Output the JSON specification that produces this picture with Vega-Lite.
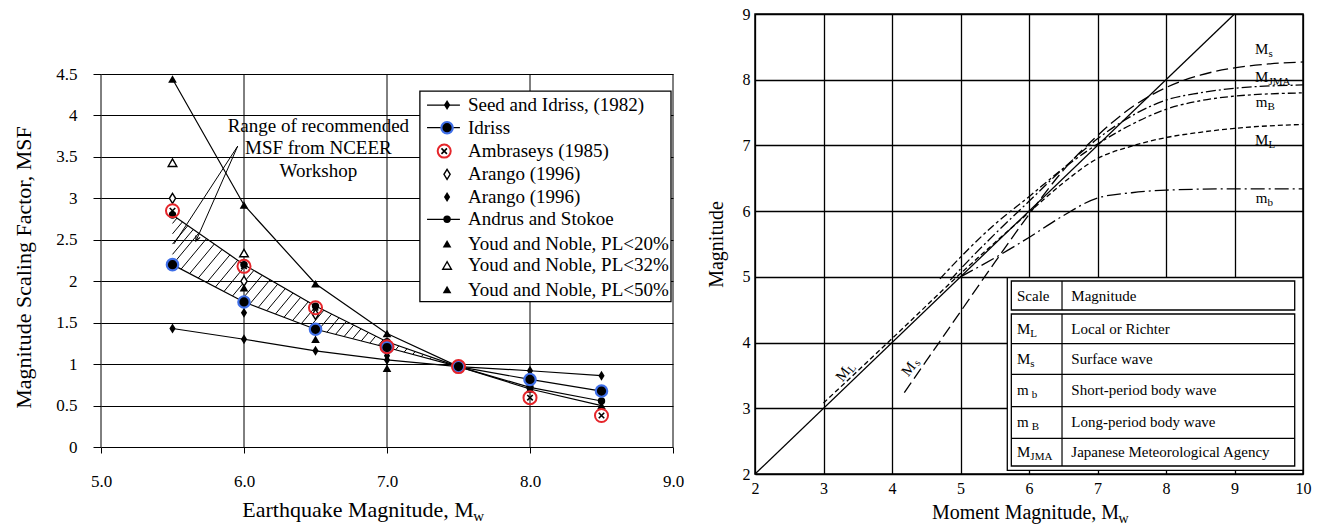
{
  "$schema": "https://vega.github.io/schema/vega-lite/v6.json",
  "background": "white",
  "padding": {"left": 12, "top": 5, "right": 5, "bottom": 2},
  "spacing": 21,
  "config": {
    "font": "Liberation Serif",
    "axis": {"labelFont": "Liberation Serif", "titleFont": "Liberation Serif", "labelColor": "#000", "titleColor": "#000", "titleFontWeight": "normal", "tickColor": "#000", "gridColor": "#000", "gridOpacity": 1, "domainColor": "#000", "labelFlush": false, "labelOverlap": false},
    "text": {"font": "Liberation Serif", "color": "#000"}
  },
  "datasets": {
    "msf": [
      {"x": 5.5, "y": 1.43, "s": "Seed"}, {"x": 6, "y": 1.3, "s": "Seed"}, {"x": 6.5, "y": 1.16, "s": "Seed"}, {"x": 7, "y": 1.05, "s": "Seed"}, {"x": 7.5, "y": 0.97, "s": "Seed"}, {"x": 8, "y": 0.92, "s": "Seed"}, {"x": 8.5, "y": 0.86, "s": "Seed"},
      {"x": 5.5, "y": 2.2, "s": "Idriss"}, {"x": 6, "y": 1.75, "s": "Idriss"}, {"x": 6.5, "y": 1.42, "s": "Idriss"}, {"x": 7, "y": 1.2, "s": "Idriss"}, {"x": 7.5, "y": 0.97, "s": "Idriss"}, {"x": 8, "y": 0.815, "s": "Idriss"}, {"x": 8.5, "y": 0.675, "s": "Idriss"},
      {"x": 5.5, "y": 2.85, "s": "Amb"}, {"x": 6, "y": 2.18, "s": "Amb"}, {"x": 6.5, "y": 1.68, "s": "Amb"}, {"x": 7, "y": 1.21, "s": "Amb"}, {"x": 7.5, "y": 0.97, "s": "Amb"}, {"x": 8, "y": 0.595, "s": "Amb"}, {"x": 8.5, "y": 0.38, "s": "Amb"},
      {"x": 5.5, "y": 3.0, "s": "Ar1"}, {"x": 6, "y": 2.0, "s": "Ar1"}, {"x": 6.5, "y": 1.6, "s": "Ar1"},
      {"x": 5.5, "y": 2.2, "s": "Ar2"}, {"x": 6, "y": 1.62, "s": "Ar2"}, {"x": 6.5, "y": 1.4, "s": "Ar2"}, {"x": 7, "y": 1.1, "s": "Ar2"},
      {"x": 5.5, "y": 2.8, "s": "And"}, {"x": 6, "y": 2.2, "s": "And"}, {"x": 6.5, "y": 1.7, "s": "And"}, {"x": 7, "y": 1.27, "s": "And"}, {"x": 7.5, "y": 0.97, "s": "And"}, {"x": 8, "y": 0.72, "s": "And"}, {"x": 8.5, "y": 0.555, "s": "And"},
      {"x": 6, "y": 1.92, "s": "Y20"}, {"x": 6.5, "y": 1.3, "s": "Y20"}, {"x": 7, "y": 0.95, "s": "Y20"},
      {"x": 5.5, "y": 3.43, "s": "Y32"}, {"x": 6, "y": 2.34, "s": "Y32"},
      {"x": 5.5, "y": 4.44, "s": "Y50"}, {"x": 6, "y": 2.92, "s": "Y50"}, {"x": 6.5, "y": 1.97, "s": "Y50"}, {"x": 7, "y": 1.37, "s": "Y50"}, {"x": 7.5, "y": 0.97, "s": "Y50"}, {"x": 8, "y": 0.7, "s": "Y50"}, {"x": 8.5, "y": 0.5, "s": "Y50"},
      {"x": 7.42, "y": 4.125, "s": "Seed", "g": 1}, {"x": 7.42, "y": 3.852, "s": "Idriss", "g": 1}, {"x": 7.40, "y": 3.57, "s": "Amb", "g": 1},
      {"x": 7.42, "y": 3.29, "s": "Ar1", "g": 1}, {"x": 7.42, "y": 3.016, "s": "Ar2", "g": 1}, {"x": 7.42, "y": 2.747, "s": "And", "g": 1},
      {"x": 7.42, "y": 2.452, "s": "Y20", "g": 1}, {"x": 7.42, "y": 2.19, "s": "Y32", "g": 1}, {"x": 7.42, "y": 1.9, "s": "Y50", "g": 1}
    ],
    "vgrid": [
      {"x": 5, "y": 0, "y2": 4.5}, {"x": 6, "y": 0, "y2": 4.5}, {"x": 7, "y": 0, "y2": 4.5}, {"x": 8, "y": 0, "y2": 4.5}, {"x": 9, "y": 0, "y2": 4.5}
    ],
    "hatch": [
      {"x": 5.5, "y": 2.324, "x2": 5.6456, "y2": 2.6253}, {"x": 5.5, "y": 2.448, "x2": 5.6076, "y2": 2.671}, {"x": 5.5, "y": 2.572, "x2": 5.5697, "y2": 2.7164}, {"x": 5.5, "y": 2.697, "x2": 5.5315, "y2": 2.7622},
      {"x": 5.5, "y": 2.2, "x2": 5.6835, "y2": 2.58}, {"x": 5.56, "y": 2.146, "x2": 5.738, "y2": 2.514}, {"x": 5.62, "y": 2.092, "x2": 5.7925, "y2": 2.449}, {"x": 5.68, "y": 2.038, "x2": 5.847, "y2": 2.384},
      {"x": 5.74, "y": 1.984, "x2": 5.9015, "y2": 2.318}, {"x": 5.8, "y": 1.93, "x2": 5.956, "y2": 2.253}, {"x": 5.86, "y": 1.876, "x2": 6.0105, "y2": 2.1895}, {"x": 5.92, "y": 1.822, "x2": 6.0692, "y2": 2.1308},
      {"x": 5.98, "y": 1.768, "x2": 6.1272, "y2": 2.0728}, {"x": 6.04, "y": 1.7236, "x2": 6.1822, "y2": 2.0178}, {"x": 6.1, "y": 1.684, "x2": 6.2355, "y2": 1.9645}, {"x": 6.16, "y": 1.6444, "x2": 6.2889, "y2": 1.9111},
      {"x": 6.22, "y": 1.6048, "x2": 6.3422, "y2": 1.8578}, {"x": 6.28, "y": 1.5652, "x2": 6.3956, "y2": 1.8044}, {"x": 6.34, "y": 1.5256, "x2": 6.4489, "y2": 1.7511}, {"x": 6.4, "y": 1.486, "x2": 6.5024, "y2": 1.698},
      {"x": 6.46, "y": 1.4464, "x2": 6.5583, "y2": 1.6499}, {"x": 6.52, "y": 1.4112, "x2": 6.6127, "y2": 1.6031}, {"x": 6.58, "y": 1.3848, "x2": 6.6641, "y2": 1.5589}, {"x": 6.64, "y": 1.3584, "x2": 6.7155, "y2": 1.5147},
      {"x": 6.7, "y": 1.332, "x2": 6.7669, "y2": 1.4705}, {"x": 6.76, "y": 1.3056, "x2": 6.8183, "y2": 1.4263}, {"x": 6.82, "y": 1.2792, "x2": 6.8697, "y2": 1.3821}, {"x": 6.88, "y": 1.2528, "x2": 6.9211, "y2": 1.3379},
      {"x": 6.94, "y": 1.2264, "x2": 6.9725, "y2": 1.2937}, {"x": 7.0, "y": 1.2, "x2": 7.0262, "y2": 1.2542}, {"x": 7.06, "y": 1.1724, "x2": 7.0831, "y2": 1.2201}, {"x": 7.12, "y": 1.1448, "x2": 7.1399, "y2": 1.1861},
      {"x": 7.18, "y": 1.1172, "x2": 7.1968, "y2": 1.1519}, {"x": 7.24, "y": 1.0896, "x2": 7.2536, "y2": 1.1178}, {"x": 7.3, "y": 1.062, "x2": 7.3105, "y2": 1.0837}
    ],
    "arrow": [
      {"x": 5.956, "y": 3.63, "x2": 5.664, "y2": 2.485},
      {"x": 5.956, "y": 3.63, "x2": 5.51, "y2": 2.45}
    ],
    "arrowhead": [{"x": 5.664, "y": 2.485}],
    "note": [
      {"x": 6.52, "y": 3.87, "t": "Range of recommended"},
      {"x": 6.52, "y": 3.61, "t": "MSF from NCEER"},
      {"x": 6.52, "y": 3.33, "t": "Workshop"}
    ],
    "lsub": [{"x": 7.604, "y": -0.83, "t": "w"}],
    "legbox": [{"x": 7.23, "x2": 8.986, "y": 1.753, "y2": 4.294}],
    "leglines": [
      {"x": 7.28, "x2": 7.51, "y": 4.125}, {"x": 7.28, "x2": 7.51, "y": 3.852}, {"x": 7.28, "x2": 7.51, "y": 2.747}
    ],
    "legtext": [
      {"x": 7.566, "y": 4.125, "t": "Seed and Idriss, (1982)"},
      {"x": 7.566, "y": 3.852, "t": "Idriss"},
      {"x": 7.566, "y": 3.57, "t": "Ambraseys (1985)"},
      {"x": 7.566, "y": 3.29, "t": "Arango (1996)"},
      {"x": 7.566, "y": 3.016, "t": "Arango (1996)"},
      {"x": 7.566, "y": 2.747, "t": "Andrus and Stokoe"},
      {"x": 7.566, "y": 2.452, "t": "Youd and Noble, PL<20%"},
      {"x": 7.566, "y": 2.19, "t": "Youd and Noble, PL<32%"},
      {"x": 7.566, "y": 1.9, "t": "Youd and Noble, PL<50%"}
    ],
    "curves": [
      {"x": 4.18, "y": 3.24, "s": "Ms"}, {"x": 4.5, "y": 3.72, "s": "Ms"}, {"x": 5, "y": 4.47, "s": "Ms"}, {"x": 5.5, "y": 5.22, "s": "Ms"}, {"x": 6, "y": 5.95, "s": "Ms"}, {"x": 6.5, "y": 6.62, "s": "Ms"}, {"x": 7, "y": 7.15, "s": "Ms"}, {"x": 7.5, "y": 7.58, "s": "Ms"}, {"x": 8, "y": 7.88, "s": "Ms"}, {"x": 8.5, "y": 8.07, "s": "Ms"}, {"x": 9, "y": 8.18, "s": "Ms"}, {"x": 9.5, "y": 8.24, "s": "Ms"}, {"x": 10, "y": 8.27, "s": "Ms"},
      {"x": 4.85, "y": 4.95, "s": "MJMA"}, {"x": 5, "y": 5.12, "s": "MJMA"}, {"x": 5.5, "y": 5.65, "s": "MJMA"}, {"x": 6, "y": 6.15, "s": "MJMA"}, {"x": 6.5, "y": 6.65, "s": "MJMA"}, {"x": 7, "y": 7.1, "s": "MJMA"}, {"x": 7.5, "y": 7.45, "s": "MJMA"}, {"x": 8, "y": 7.69, "s": "MJMA"}, {"x": 8.5, "y": 7.8, "s": "MJMA"}, {"x": 9, "y": 7.87, "s": "MJMA"}, {"x": 10, "y": 7.92, "s": "MJMA"},
      {"x": 4.7, "y": 4.97, "s": "mB"}, {"x": 5, "y": 5.3, "s": "mB"}, {"x": 5.5, "y": 5.8, "s": "mB"}, {"x": 6, "y": 6.22, "s": "mB"}, {"x": 6.5, "y": 6.65, "s": "mB"}, {"x": 7, "y": 7.02, "s": "mB"}, {"x": 7.5, "y": 7.32, "s": "mB"}, {"x": 8, "y": 7.55, "s": "mB"}, {"x": 8.5, "y": 7.68, "s": "mB"}, {"x": 9, "y": 7.75, "s": "mB"}, {"x": 10, "y": 7.8, "s": "mB"},
      {"x": 3, "y": 3.08, "s": "ML"}, {"x": 4, "y": 4.06, "s": "ML"}, {"x": 5, "y": 5.05, "s": "ML"}, {"x": 5.5, "y": 5.52, "s": "ML"}, {"x": 6, "y": 5.98, "s": "ML"}, {"x": 6.5, "y": 6.43, "s": "ML"}, {"x": 7, "y": 6.8, "s": "ML"}, {"x": 7.5, "y": 6.99, "s": "ML"}, {"x": 8, "y": 7.12, "s": "ML"}, {"x": 8.5, "y": 7.2, "s": "ML"}, {"x": 9, "y": 7.26, "s": "ML"}, {"x": 10, "y": 7.32, "s": "ML"},
      {"x": 5, "y": 5.0, "s": "mb"}, {"x": 5.7, "y": 5.41, "s": "mb"}, {"x": 6, "y": 5.6, "s": "mb"}, {"x": 6.5, "y": 5.93, "s": "mb"}, {"x": 7, "y": 6.2, "s": "mb"}, {"x": 7.5, "y": 6.28, "s": "mb"}, {"x": 8, "y": 6.32, "s": "mb"}, {"x": 9, "y": 6.34, "s": "mb"}, {"x": 10, "y": 6.34, "s": "mb"}
    ],
    "diag": [{"x": 2, "y": 2}, {"x": 9, "y": 9}],
    "tbox": [
      {"x": 5.683, "x2": 10, "y": 2.056, "y2": 4.987},
      {"x": 5.742, "x2": 9.879, "y": 4.496, "y2": 4.937},
      {"x": 5.742, "x2": 9.879, "y": 2.122, "y2": 4.435}
    ],
    "tlines": [
      {"x": 6.482, "x2": 6.482, "y": 4.496, "y2": 4.937},
      {"x": 6.482, "x2": 6.482, "y": 2.122, "y2": 4.435},
      {"x": 5.742, "x2": 9.879, "y": 3.983, "y2": 3.983},
      {"x": 5.742, "x2": 9.879, "y": 3.517, "y2": 3.517},
      {"x": 5.742, "x2": 9.879, "y": 3.024, "y2": 3.024},
      {"x": 5.742, "x2": 9.879, "y": 2.543, "y2": 2.543}
    ],
    "ttext": [
      {"x": 5.825, "y": 4.716, "t": "Scale"}, {"x": 6.618, "y": 4.716, "t": "Magnitude"},
      {"x": 5.825, "y": 4.208, "t": "M"}, {"x": 6.618, "y": 4.208, "t": "Local or Richter"},
      {"x": 5.825, "y": 3.75, "t": "M"}, {"x": 6.618, "y": 3.75, "t": "Surface wave"},
      {"x": 5.825, "y": 3.271, "t": "m"}, {"x": 6.618, "y": 3.271, "t": "Short-period body wave"},
      {"x": 5.825, "y": 2.784, "t": "m"}, {"x": 6.618, "y": 2.784, "t": "Long-period body wave"},
      {"x": 5.825, "y": 2.332, "t": "M"}, {"x": 6.618, "y": 2.332, "t": "Japanese Meteorological Agency"}
    ],
    "tsub": [
      {"x": 6.02, "y": 4.208, "t": "L"}, {"x": 6.02, "y": 3.75, "t": "s"}, {"x": 6.04, "y": 3.271, "t": "b"}, {"x": 6.04, "y": 2.784, "t": "B"}, {"x": 6.02, "y": 2.332, "t": "JMA"}
    ],
    "clab": [
      {"x": 9.3, "y": 8.47, "t": "M"}, {"x": 9.3, "y": 8.04, "t": "M"}, {"x": 9.31, "y": 7.66, "t": "m"}, {"x": 9.3, "y": 7.08, "t": "M"}, {"x": 9.31, "y": 6.2, "t": "m"}
    ],
    "csub": [
      {"x": 9.495, "y": 8.47, "t": "s"}, {"x": 9.495, "y": 8.04, "t": "JMA"}, {"x": 9.48, "y": 7.66, "t": "B"}, {"x": 9.495, "y": 7.08, "t": "L"}, {"x": 9.48, "y": 6.2, "t": "b"}
    ],
    "rmain": [{"x": 3.28, "y": 3.52, "t": "M"}, {"x": 4.24, "y": 3.6, "t": "M"}],
    "rsub": [{"x": 3.42, "y": 3.6, "t": "L"}, {"x": 4.37, "y": 3.69, "t": "s"}],
    "rxsub": [{"x": 7.308, "y": 1.31, "t": "w"}]
  },
  "hconcat": [
    {
      "width": 572,
      "height": 433,
      "view": {"stroke": null},
      "encoding": {
        "x": {"field": "x", "type": "quantitative", "scale": {"domain": [5, 9], "nice": false, "zero": false},
          "axis": {"values": [5, 6, 7, 8, 9], "format": ".1f", "grid": false, "domain": false, "ticks": true, "tickSize": 6, "tickWidth": 1, "labelFontSize": 17, "labelPadding": 20, "title": "Earthquake Magnitude, M", "titleFontSize": 22, "titlePadding": 10, "titleX": 256.6}},
        "y": {"field": "y", "type": "quantitative", "scale": {"domain": [0, 5.224], "nice": false, "zero": false},
          "axis": {"values": [0, 0.5, 1, 1.5, 2, 2.5, 3, 3.5, 4, 4.5], "format": "~g", "grid": true, "gridWidth": 1, "domain": false, "tickSize": 8, "tickWidth": 1, "labelFontSize": 17, "labelPadding": 16, "title": "Magnitude Scaling Factor, MSF", "titleFontSize": 22, "titlePadding": 20, "titleY": 253}}
      },
      "layer": [
        {"data": {"name": "vgrid"}, "mark": {"type": "rule", "color": "#000", "strokeWidth": 1}, "encoding": {"y2": {"field": "y2"}}},
        {"data": {"name": "hatch"}, "mark": {"type": "rule", "color": "#000", "strokeWidth": 1}, "encoding": {"x2": {"field": "x2"}, "y2": {"field": "y2"}}},
        {"data": {"name": "arrow"}, "mark": {"type": "rule", "color": "#000", "strokeWidth": 1}, "encoding": {"x2": {"field": "x2"}, "y2": {"field": "y2"}}},
        {"data": {"name": "arrowhead"}, "mark": {"type": "point", "shape": "M-0.6,-1.3L0,0L0.6,-1.3", "filled": false, "stroke": "#000", "strokeWidth": 1.2, "size": 60, "angle": 24, "opacity": 1}},
        {"data": {"name": "note"}, "mark": {"type": "text", "fontSize": 19, "align": "center", "baseline": "middle"}, "encoding": {"text": {"field": "t"}}},
        {"data": {"name": "lsub"}, "mark": {"type": "text", "fontSize": 15, "align": "left", "baseline": "middle"}, "encoding": {"text": {"field": "t"}}},
        {"data": {"name": "msf"}, "transform": [{"filter": "datum.g != 1 && (datum.s == 'Seed' || datum.s == 'Idriss' || datum.s == 'And' || datum.s == 'Y50')"}],
          "mark": {"type": "line", "color": "#000", "strokeWidth": 1.2}, "encoding": {"detail": {"field": "s"}}},
        {"data": {"name": "legbox"}, "mark": {"type": "rect", "fill": "white", "stroke": "#000", "strokeWidth": 1.3}, "encoding": {"x2": {"field": "x2"}, "y2": {"field": "y2"}}},
        {"data": {"name": "leglines"}, "mark": {"type": "rule", "color": "#000", "strokeWidth": 1.2}, "encoding": {"x2": {"field": "x2"}}},
        {"data": {"name": "msf"}, "transform": [{"filter": "datum.s == 'Seed' || datum.s == 'Ar2'"}],
          "mark": {"type": "point", "shape": "M0,-1L0.62,0L0,1L-0.62,0Z", "filled": true, "color": "#000", "size": 100, "opacity": 1}},
        {"data": {"name": "msf"}, "transform": [{"filter": "datum.s == 'Ar1'"}],
          "mark": {"type": "point", "shape": "M0,-1L0.62,0L0,1L-0.62,0Z", "filled": true, "fill": "white", "stroke": "#000", "strokeWidth": 1.4, "size": 100, "opacity": 1}},
        {"data": {"name": "msf"}, "transform": [{"filter": "datum.s == 'And'"}],
          "mark": {"type": "point", "shape": "circle", "filled": true, "color": "#000", "size": 55, "opacity": 1}},
        {"data": {"name": "msf"}, "transform": [{"filter": "datum.s == 'Y20' || datum.s == 'Y50'"}],
          "mark": {"type": "point", "shape": "triangle-up", "filled": true, "color": "#000", "size": 75, "opacity": 1}},
        {"data": {"name": "msf"}, "transform": [{"filter": "datum.s == 'Y32'"}],
          "mark": {"type": "point", "shape": "triangle-up", "filled": true, "fill": "white", "stroke": "#000", "strokeWidth": 1.4, "size": 75, "opacity": 1}},
        {"data": {"name": "msf"}, "transform": [{"filter": "datum.s == 'Idriss'"}],
          "mark": {"type": "point", "shape": "circle", "filled": true, "fill": "#000", "stroke": "#3f6fe8", "strokeWidth": 2.2, "size": 130, "opacity": 1}},
        {"data": {"name": "msf"}, "transform": [{"filter": "datum.s == 'Amb'"}],
          "mark": {"type": "point", "shape": "circle", "filled": false, "stroke": "#e5262b", "strokeWidth": 2, "size": 170, "opacity": 1}},
        {"data": {"name": "msf"}, "transform": [{"filter": "datum.s == 'Amb'"}],
          "mark": {"type": "point", "shape": "M-1,-1L1,1M-1,1L1,-1", "filled": false, "stroke": "#000", "strokeWidth": 1.6, "size": 30, "opacity": 1}},
        {"data": {"name": "legtext"}, "mark": {"type": "text", "fontSize": 19, "align": "left", "baseline": "middle"}, "encoding": {"text": {"field": "t"}}}
      ]
    },
    {
      "width": 548,
      "height": 460,
      "view": {"stroke": "#000", "strokeWidth": 1.5},
      "encoding": {
        "x": {"field": "x", "type": "quantitative", "scale": {"domain": [2, 10], "nice": false, "zero": false},
          "axis": {"values": [2, 3, 4, 5, 6, 7, 8, 9, 10], "format": "d", "grid": true, "gridWidth": 1.3, "domain": false, "ticks": false, "labelFontSize": 16, "labelPadding": 6, "title": "Moment Magnitude, M", "titleFontSize": 20, "titlePadding": 6, "titleX": 270}},
        "y": {"field": "y", "type": "quantitative", "scale": {"domain": [2, 9], "nice": false, "zero": false},
          "axis": {"values": [2, 3, 4, 5, 6, 7, 8, 9], "format": "d", "grid": true, "gridWidth": 1.3, "domain": false, "ticks": false, "labelFontSize": 16, "labelPadding": 5, "title": "Magnitude", "titleFontSize": 20, "titlePadding": 16}}
      },
      "layer": [
        {"data": {"name": "curves"}, "mark": {"type": "line", "color": "#000", "strokeWidth": 1.3, "interpolate": "monotone"},
          "encoding": {"strokeDash": {"field": "s", "type": "nominal", "scale": {"domain": ["Ms", "MJMA", "mB", "ML", "mb"], "range": [[12, 5], [10, 3, 2, 3], [8, 3, 3, 3], [5, 3], [14, 4, 2, 4]]}, "legend": null}}},
        {"data": {"name": "diag"}, "mark": {"type": "line", "color": "#000", "strokeWidth": 1.3}},
        {"data": {"name": "tbox"}, "mark": {"type": "rect", "fill": "white", "stroke": "#000", "strokeWidth": 1.3}, "encoding": {"x2": {"field": "x2"}, "y2": {"field": "y2"}}},
        {"data": {"name": "tlines"}, "mark": {"type": "rule", "color": "#000", "strokeWidth": 1.2}, "encoding": {"x2": {"field": "x2"}, "y2": {"field": "y2"}}},
        {"data": {"name": "ttext"}, "mark": {"type": "text", "fontSize": 15, "align": "left", "baseline": "middle"}, "encoding": {"text": {"field": "t"}}},
        {"data": {"name": "tsub"}, "mark": {"type": "text", "fontSize": 11, "align": "left", "baseline": "middle", "dy": 5}, "encoding": {"text": {"field": "t"}}},
        {"data": {"name": "clab"}, "mark": {"type": "text", "fontSize": 15, "align": "left", "baseline": "middle"}, "encoding": {"text": {"field": "t"}}},
        {"data": {"name": "csub"}, "mark": {"type": "text", "fontSize": 11, "align": "left", "baseline": "middle", "dy": 5}, "encoding": {"text": {"field": "t"}}},
        {"data": {"name": "rmain"}, "mark": {"type": "text", "fontSize": 15, "align": "center", "baseline": "middle", "angle": -52}, "encoding": {"text": {"field": "t"}}},
        {"data": {"name": "rsub"}, "mark": {"type": "text", "fontSize": 11, "align": "center", "baseline": "middle", "angle": -52}, "encoding": {"text": {"field": "t"}}},
        {"data": {"name": "rxsub"}, "mark": {"type": "text", "fontSize": 14, "align": "left", "baseline": "middle"}, "encoding": {"text": {"field": "t"}}}
      ]
    }
  ]
}
